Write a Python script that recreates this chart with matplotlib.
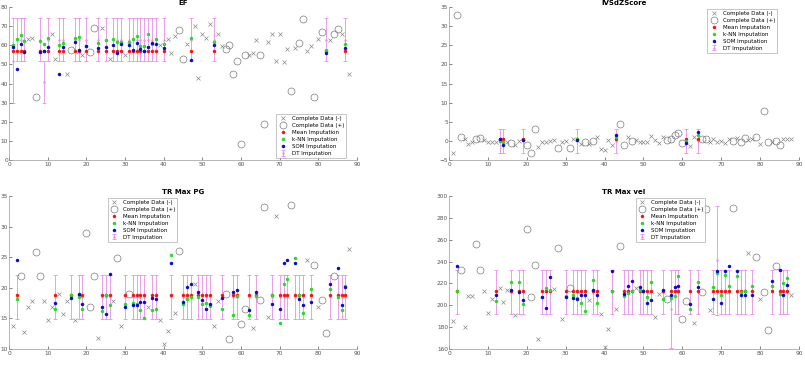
import matplotlib
matplotlib.use("Agg")
import matplotlib.pyplot as plt

# ---- EF ----
ef_neg_x = [5, 6, 11, 12, 15, 19, 24, 26, 30, 39, 41, 42, 43, 46, 48, 49, 50, 51, 52, 54, 55,
            62, 63, 64, 67, 68, 69, 70, 71, 72, 74, 77, 78, 80, 83, 86, 88]
ef_neg_y = [63.1, 64.0, 65.7, 52.9, 45.0, 55.1, 68.9, 52.9, 55.1, 60.0, 63.1, 56.0, 64.9, 60.9,
            69.9, 43.0, 66.1, 64.0, 71.0, 66.1, 59.8, 54.8, 55.8, 63.0, 61.9, 66.1, 51.8, 66.1,
            51.5, 57.9, 58.6, 56.9, 59.8, 63.5, 62.6, 66.1, 45.0]
ef_pos_x = [7, 16, 21, 22, 44, 45, 56, 57, 58, 59, 60, 61, 65, 66, 73, 75, 76, 79, 81, 84, 85]
ef_pos_y = [32.7, 57.7, 56.7, 69.0, 68.2, 52.9, 57.9, 60.0, 45.0, 52.0, 8.2, 55.1, 55.0, 19.0,
            36.0, 61.4, 73.9, 32.9, 66.8, 65.9, 68.5]
ef_miss_x = [1, 2, 3, 4, 8, 9, 10, 13, 14, 17, 18, 20, 23, 25, 27, 28, 29, 31, 32, 33, 34, 35,
             36, 37, 38, 40, 47, 53, 82, 87]
ef_mean = [57.0, 57.0, 57.0, 57.0, 57.0, 57.0, 57.0, 57.0, 57.0, 57.0, 57.0, 57.0, 57.0, 57.0, 57.0,
           57.0, 57.0, 57.0, 57.0, 57.0, 57.0, 57.0, 57.0, 57.0, 57.0, 57.0, 57.0, 57.0, 57.0, 57.0]
ef_knn = [60.3, 63.5, 65.6, 62.4, 62.1, 60.7, 64.0, 60.2, 61.0, 63.7, 64.2, 59.5, 61.0, 62.8, 63.1,
          61.7, 61.9, 61.9, 63.1, 64.7, 59.8, 59.7, 65.9, 60.7, 63.3, 60.9, 63.7, 61.9, 57.5, 60.7]
ef_som = [59.3, 47.5, 60.9, 56.7, 56.7, 56.9, 59.3, 45.2, 59.3, 61.6, 57.6, 59.5, 58.6, 59.3, 60.3,
          55.7, 60.9, 60.0, 57.4, 61.4, 58.1, 57.0, 59.3, 61.4, 60.9, 58.4, 52.5, 60.2, 55.8, 58.6]
ef_dt = [52, 63, 63, 63, 63, 41, 63, 63, 63, 63, 63, 63, 63, 63, 63,
         63, 63, 63, 63, 63, 63, 63, 63, 63, 63, 63, 63, 63, 63, 63]
ef_dt_err = [22, 11, 11, 11, 11, 11, 11, 11, 11, 11, 11, 11, 11, 11, 11,
             11, 11, 11, 11, 11, 11, 11, 11, 11, 11, 11, 11, 11, 11, 11]

# ---- IVSdZScore ----
ivs_neg_x = [1, 4, 5, 6, 9, 10, 11, 12, 15, 17, 18, 23, 24, 25, 26, 27, 29, 30, 32, 34, 36, 38,
             39, 40, 41, 42, 46, 48, 49, 50, 51, 52, 53, 54, 55, 62, 63, 67, 68, 69, 70, 71, 72,
             74, 77, 78, 80, 83, 86, 87, 88]
ivs_neg_y = [-3.2, 0.4, -0.7, -0.2, 0.3, -0.4, -0.4, -0.35, -0.35, -1.1, 0.0, -1.5, -0.3, -0.2,
             0.0, 0.35, -0.2, -0.1, 0.45, -0.7, -0.9, 1.1, -2.0, -2.5, 0.35, -1.0, 1.1, 0.1,
             -0.2, -0.2, -0.3, 1.4, 0.25, -0.6, 1.1, -1.3, 1.05, -0.3, 0.6, -0.35, 0.0, -0.6,
             0.6, 0.8, 0.35, 0.5, -0.8, -0.35, 0.5, 0.5, 0.5]
ivs_pos_x = [2, 3, 7, 8, 16, 20, 21, 22, 28, 31, 35, 37, 44, 45, 47, 56, 57, 58, 59, 60, 65, 66,
             73, 75, 76, 79, 81, 82, 84, 85]
ivs_pos_y = [33.0, 1.05, 0.6, 0.8, -0.5, -1.05, -3.2, 3.2, -1.9, -1.9, -0.3, 0.0, 4.3, -1.05,
             0.0, 0.35, 0.6, 1.65, 2.0, -0.5, 0.6, 0.45, -0.1, -0.2, 0.7, 1.05, 7.8, -0.2, -0.1,
             -1.2]
ivs_miss_x = [13, 14, 19, 33, 43, 61, 64]
ivs_mean = [0.4, 0.4, 0.4, 0.4, 0.4, 0.4, 0.4]
ivs_knn = [-0.1, -0.2, 0.3, 0.45, 1.0, 0.0, 1.5]
ivs_som = [0.45, -1.0, 0.3, 0.1, 1.65, -0.45, 2.2]
ivs_dt = [0.05, 0.05, 0.05, 0.05, 0.05, 0.05, 0.05]
ivs_dt_err = [3.15, 3.15, 3.15, 3.15, 3.15, 3.15, 3.15]

# ---- TR Max PG ----
pg_neg_x = [1, 4, 5, 6, 9, 10, 11, 13, 14, 15, 17, 23, 27, 29, 36, 39, 40, 41, 43, 48, 53, 54,
            63, 67, 69, 77, 80, 88]
pg_neg_y = [13.7, 12.8, 16.9, 17.9, 17.9, 14.8, 16.9, 19.0, 15.8, 17.9, 14.8, 11.8, 17.9, 13.8,
            16.9, 14.8, 10.8, 12.9, 15.9, 20.7, 13.8, 17.9, 13.5, 15.3, 31.7, 24.5, 16.9, 26.4]
pg_pos_x = [3, 7, 8, 20, 21, 22, 28, 31, 44, 56, 57, 60, 61, 65, 66, 73, 79, 81, 82, 84]
pg_pos_y = [21.9, 25.9, 21.9, 29.0, 16.9, 21.9, 24.9, 19.0, 26.0, 19.0, 11.7, 14.1, 16.5, 18.0,
            33.2, 33.5, 23.8, 18.0, 12.6, 21.9]
pg_miss_x = [2, 12, 16, 18, 19, 24, 25, 26, 30, 32, 33, 34, 35, 37, 38, 42, 45, 46, 47, 49,
             50, 51, 52, 55, 58, 59, 62, 64, 68, 70, 71, 72, 74, 75, 76, 78, 83, 85, 86, 87]
pg_mean = [18.9, 18.9, 18.9, 18.9, 18.9, 18.9, 18.9, 18.9, 18.9, 18.9, 18.9, 18.9, 18.9, 18.9,
           18.9, 18.9, 18.9, 18.9, 18.9, 18.9, 18.9, 18.9, 18.9, 18.9, 18.9, 18.9, 18.9, 18.9,
           18.9, 18.9, 18.9, 18.9, 18.9, 18.9, 18.9, 18.9, 18.9, 18.9, 18.9, 18.9]
pg_knn = [18.2, 16.5, 18.8, 18.5, 16.5, 16.2, 18.8, 17.2, 17.3, 17.5, 17.4, 16.3, 15.1, 16.4,
          16.6, 25.3, 17.4, 18.2, 18.5, 18.5, 17.3, 17.5, 17.0, 16.6, 15.5, 18.6, 15.5, 18.7,
          18.8, 14.3, 20.7, 21.4, 24.9, 18.9, 15.9, 19.8, 19.8, 18.5, 16.3, 20.3]
pg_som = [24.5, 17.5, 18.3, 19.0, 17.3, 16.9, 15.8, 22.3, 16.9, 17.2, 17.2, 17.7, 17.6, 18.4,
          18.2, 24.0, 17.7, 20.2, 20.7, 19.3, 18.0, 16.5, 17.3, 18.4, 19.3, 19.7, 16.3, 19.3,
          17.3, 16.5, 24.0, 24.5, 24.0, 18.2, 17.2, 17.6, 20.7, 23.2, 17.2, 20.1]
pg_dt = [18.5, 18.5, 18.5, 18.5, 18.5, 18.5, 18.5, 18.5, 18.5, 18.5, 18.5, 18.5, 18.5, 18.5,
         18.5, 18.5, 18.5, 18.5, 18.5, 18.5, 18.5, 18.5, 18.5, 18.5, 18.5, 18.5, 18.5, 18.5,
         18.5, 18.5, 18.5, 18.5, 18.5, 18.5, 18.5, 18.5, 18.5, 18.5, 18.5, 18.5]
pg_dt_err = [3.6, 3.6, 3.6, 3.6, 3.6, 3.6, 3.6, 3.6, 3.6, 3.6, 3.6, 3.6, 3.6, 3.6, 3.6, 3.6,
             3.6, 3.6, 3.6, 3.6, 3.6, 3.6, 3.6, 3.6, 3.6, 3.6, 3.6, 3.6, 3.6, 3.6, 3.6, 3.6,
             3.6, 3.6, 3.6, 3.6, 3.6, 3.6, 3.6, 3.6]

# ---- TR Max vel ----
vel_neg_x = [1, 4, 5, 6, 9, 10, 11, 13, 14, 15, 17, 23, 27, 29, 36, 39, 40, 41, 43, 48, 53, 54,
             63, 67, 77, 80, 88]
vel_neg_y = [186.0, 180.2, 208.7, 208.7, 212.7, 192.8, 206.2, 215.7, 202.9, 214.2, 191.5, 169.5,
             214.8, 187.6, 205.0, 191.8, 161.5, 178.4, 196.8, 215.4, 189.7, 210.2, 184.0, 195.8,
             247.6, 206.0, 209.3]
vel_pos_x = [3, 7, 8, 20, 21, 22, 28, 31, 44, 56, 60, 61, 65, 66, 73, 79, 81, 82, 84]
vel_pos_y = [232.0, 255.9, 232.6, 270.0, 207.5, 236.9, 252.0, 215.4, 254.0, 205.6, 187.0, 203.8,
             212.4, 288.4, 289.0, 244.2, 212.4, 177.0, 236.0]
vel_miss_x = [2, 12, 16, 18, 19, 24, 25, 26, 30, 32, 33, 34, 35, 37, 38, 42, 45, 46, 47, 49, 50,
              51, 52, 55, 57, 58, 59, 62, 64, 68, 69, 70, 71, 72, 74, 75, 76, 78, 83, 85, 86, 87]
vel_mean = [213.3, 213.3, 213.3, 213.3, 213.3, 213.3, 213.3, 213.3, 213.3, 213.3, 213.3, 213.3,
            213.3, 213.3, 213.3, 213.3, 213.3, 213.3, 213.3, 213.3, 213.3, 213.3, 213.3, 213.3,
            213.3, 213.3, 213.3, 213.3, 213.3, 213.3, 213.3, 213.3, 213.3, 213.3, 213.3, 213.3,
            213.3, 213.3, 213.3, 213.3, 213.3, 213.3]
vel_knn = [213.3, 204.0, 221.6, 221.0, 201.0, 208.0, 215.4, 213.6, 208.7, 209.0, 207.0, 202.3,
           194.6, 222.8, 202.3, 213.0, 208.7, 211.2, 212.7, 214.0, 213.3, 207.5, 221.3, 206.0,
           207.0, 208.1, 227.0, 196.5, 221.0, 216.4, 229.2, 209.3, 227.4, 217.6, 226.5, 211.8,
           213.0, 217.9, 217.9, 210.2, 220.0, 225.0]
vel_som = [235.7, 209.0, 213.6, 212.4, 204.7, 207.2, 197.4, 225.6, 207.5, 206.6, 205.3, 209.0,
           209.0, 213.6, 209.0, 231.7, 210.0, 217.9, 222.5, 217.0, 213.3, 202.3, 205.0, 213.6,
           209.6, 217.0, 217.6, 201.3, 216.7, 205.3, 231.7, 201.7, 231.7, 236.0, 231.7, 209.6,
           209.3, 209.3, 222.5, 232.0, 209.3, 218.8]
vel_dt = [212, 212, 212, 212, 212, 212, 212, 212, 212, 212, 212, 212, 212, 212, 212, 212, 212,
          212, 212, 212, 212, 212, 212, 212, 196.5, 212, 212, 212, 212, 212, 241, 212, 212, 212,
          212, 212, 212, 212, 212, 212, 212, 212]
vel_dt_err = [20.3, 20.3, 20.3, 20.3, 20.3, 20.3, 20.3, 20.3, 20.3, 20.3, 20.3, 20.3, 20.3, 20.3,
              20.3, 20.3, 20.3, 20.3, 20.3, 20.3, 20.3, 20.3, 20.3, 20.3, 35.5, 20.3, 20.3, 20.3,
              20.3, 20.3, 49.5, 20.3, 20.3, 20.3, 20.3, 20.3, 20.3, 20.3, 20.3, 20.3, 20.3, 20.3]

PINK = '#e88ee8'


def panel(ax, title, neg_x, neg_y, pos_x, pos_y, miss_x, mean, knn, som, dt, dt_err,
          ylim, yticks, leg_loc, leg_anchor):
    dt_h = ax.errorbar(miss_x, dt, yerr=dt_err, fmt='.', color=PINK, ecolor=PINK,
                       elinewidth=0.6, capsize=1.6, capthick=0.6, markersize=1.5, zorder=1)
    neg_h, = ax.plot(neg_x, neg_y, 'x', color='#8a8a8a', ms=3.5, mew=0.5, zorder=2)
    pos_h, = ax.plot(pos_x, pos_y, 'o', mfc='none', mec='#7a7a7a', ms=5, mew=0.5, zorder=2)
    mean_h, = ax.plot(miss_x, mean, 'o', color='#ff1010', ms=2.5, mew=0, zorder=3)
    knn_h, = ax.plot(miss_x, knn, 'o', color='#22dd22', ms=2.5, mew=0, zorder=4)
    som_h, = ax.plot(miss_x, som, 'o', color='#0a0ad0', ms=2.5, mew=0, zorder=5)
    ax.set_xlim(0, 90)
    ax.set_xticks(range(0, 91, 10))
    ax.set_ylim(*ylim)
    ax.set_yticks(yticks)
    ax.set_title(title, fontsize=5, fontweight='bold', pad=1.5)
    for s in ['top', 'right']:
        ax.spines[s].set_visible(False)
    for s in ['left', 'bottom']:
        ax.spines[s].set_color('#999999')
        ax.spines[s].set_linewidth(0.5)
    ax.tick_params(labelsize=4.2, colors='#555555', direction='in', length=2, width=0.5, pad=1.5)
    ax.tick_params(axis='y', pad=0.6)
    leg = ax.legend([neg_h, pos_h, mean_h, knn_h, som_h, dt_h],
                    ['Complete Data (-)', 'Complete Data (+)', 'Mean Imputation',
                     'k-NN Imputation', 'SOM Imputation', 'DT Imputation'],
                    loc=leg_loc, bbox_to_anchor=leg_anchor, fontsize=4, frameon=True,
                    fancybox=False, edgecolor='#999999', labelspacing=0.35, handlelength=1.6,
                    handletextpad=0.8, borderpad=0.35, borderaxespad=0)
    leg.get_frame().set_linewidth(0.5)


fig = plt.figure(figsize=(8.05, 3.66), dpi=100)
ax1 = fig.add_axes([9 / 805, 1 - 160 / 366, 348 / 805, 153 / 366])
ax2 = fig.add_axes([449 / 805, 1 - 160 / 366, 350 / 805, 153 / 366])
ax3 = fig.add_axes([9 / 805, 1 - 349 / 366, 348 / 805, 153 / 366])
ax4 = fig.add_axes([449 / 805, 1 - 349 / 366, 350 / 805, 153 / 366])

panel(ax1, 'EF', ef_neg_x, ef_neg_y, ef_pos_x, ef_pos_y, ef_miss_x, ef_mean, ef_knn, ef_som,
      ef_dt, ef_dt_err, (0, 80), range(0, 81, 10), 'lower right', (0.968, 0.013))
panel(ax2, 'IVSdZScore', ivs_neg_x, ivs_neg_y, ivs_pos_x, ivs_pos_y, ivs_miss_x, ivs_mean,
      ivs_knn, ivs_som, ivs_dt, ivs_dt_err, (-5, 35), range(-5, 36, 5), 'upper right',
      (0.937, 0.987))
panel(ax3, 'TR Max PG', pg_neg_x, pg_neg_y, pg_pos_x, pg_pos_y, pg_miss_x, pg_mean, pg_knn,
      pg_som, pg_dt, pg_dt_err, (10, 35), range(10, 36, 5), 'upper left', (0.284, 0.987))
panel(ax4, 'TR Max vel', vel_neg_x, vel_neg_y, vel_pos_x, vel_pos_y, vel_miss_x, vel_mean,
      vel_knn, vel_som, vel_dt, vel_dt_err, (160, 300), range(160, 301, 20), 'upper left',
      (0.534, 0.987))

fig.savefig('out.png', dpi=100)
